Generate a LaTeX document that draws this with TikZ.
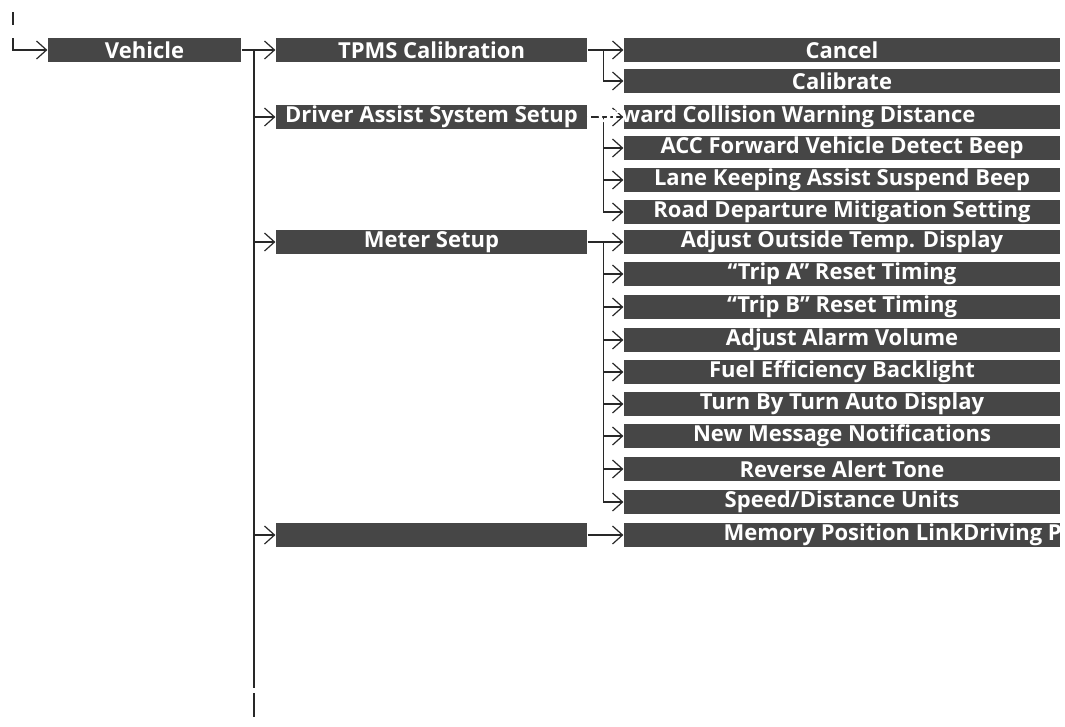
\documentclass[tikz,border=0pt]{standalone}
\usepackage{fontspec}
\setmainfont{Open Sans}
\usetikzlibrary{arrows.meta}
\definecolor{boxgray}{RGB}{70,70,70}
\definecolor{linegray}{RGB}{40,40,40}

\tikzset{
	menu/.style={fill=boxgray,text=white,inner sep=0pt,minimum height=24pt,font=\bfseries\fontsize{22}{22}\selectfont},
	topbox/.style={menu,minimum width=193pt},
	midbox/.style={menu,minimum width=311pt},
	leafbox/.style={menu,minimum width=436pt},
	overtext/.style={text=white,inner sep=0pt,font=\bfseries\fontsize{22}{22}\selectfont},
	arr/.style={-{Straight Barb[length=10pt,width=18pt]}},
}

\begin{document}
\begin{tikzpicture}[x=1pt,y=-1pt,line width=1.2pt,draw=linegray]
		\useasboundingbox (0,0) rectangle (1065,726);
		% menu boxes
		\node[topbox] (veh) at (144.5,50) {Vehicle};
		\node[midbox] (tpms) at (431.5,50) {TPMS Calibration};
		\node[midbox] (das) at (431.5,117) {Driver Assist System Setup};
		\node[midbox] (meter) at (431.5,242) {Meter Setup};
		\node[midbox] (mem) at (431.5,535) {};
		\foreach \n/\y/\t in {cancel/50/Cancel, calib/81/Calibrate, fcw/117/{},
			acc/148/{ACC Forward Vehicle Detect Beep}, lka/180/{Lane Keeping Assist Suspend Beep},
			rdm/212/{Road Departure Mitigation Setting}, temp/242/{Adjust Outside Temp. Display},
			tripa/274/{“Trip A” Reset Timing}, tripb/307/{“Trip B” Reset Timing},
			alarm/340/{Adjust Alarm Volume}, fuel/372/{Fuel Efficiency Backlight},
			turn/404/{Turn By Turn Auto Display}, msg/436/{New Message Notifications},
			rev/469/{Reverse Alert Tone}, units/502/{Speed/Distance Units}, memlink/535/{}}
			\node[leafbox] (\n) at (842,\y) {\t};
		% connectors
		\coordinate (in0) at (13,12);
		\coordinate (in1) at (13,25);
		\coordinate (in2) at (13,38);
		\coordinate (trunk) at (254,50);
		\coordinate (trunkend) at (254,688);
		\coordinate (tail0) at (254,693);
		\coordinate (tail1) at (254,717);
		\draw (in0)--(in1);
		\draw[arr] (in2) |- (veh.west);
		\draw[arr] (veh.east)--(tpms.west);
		\draw (trunk)--(trunkend);
		\draw (tail0)--(tail1);
		\foreach \n in {das,meter,mem}
			\draw[arr] (trunk |- \n.west)--(\n.west);
		\draw[arr] (tpms.east)--(cancel.west);
		\draw[arr] ([xshift=16pt]tpms.east) |- (calib.west);
		\draw[arr] (das.east)--(fcw.west);
		\foreach \n in {acc,lka,rdm}
			\draw[arr] ([xshift=16pt]das.east) |- (\n.west);
		\draw[arr] (meter.east)--(temp.west);
		\foreach \n in {tripa,tripb,alarm,fuel,turn,msg,rev,units}
			\draw[arr] ([xshift=16pt]meter.east) |- (\n.west);
		\draw[arr] (mem.east)--(memlink.west);
		% texts running past their boxes
		\node[overtext,anchor=east] (fcwtext) at (976,117) {Forward Collision Warning Distance};
		\begin{scope}
			\clip (memlink.north west) rectangle (memlink.south east);
			\node[overtext,anchor=west] (memtext) at (723,535) {Memory Position LinkDriving P};
		\end{scope}
	\end{tikzpicture}
\end{document}
